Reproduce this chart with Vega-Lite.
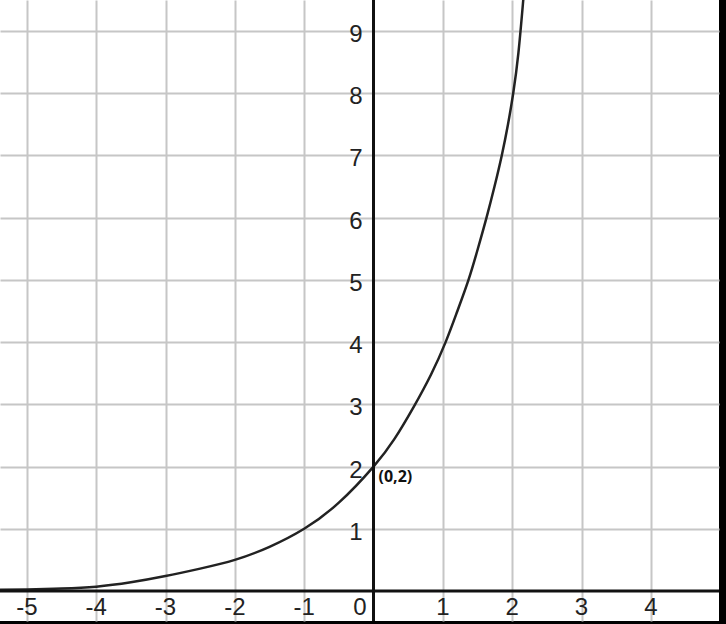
{
  "$schema": "https://vega.github.io/schema/vega-lite/v6.json",
  "width": 719,
  "height": 621,
  "autosize": {"type": "none"},
  "padding": {"left": 0, "top": 0, "right": 7, "bottom": 3},
  "background": "#000000",
  "config": {"view": {"fill": "#ffffff", "stroke": null}},
  "datasets": {
    "curve": [
      {"x": -5.4, "y": 0.02}, {"x": -5.0, "y": 0.025}, {"x": -4.5, "y": 0.04}, {"x": -4.0, "y": 0.07},
      {"x": -3.5, "y": 0.14}, {"x": -3.0, "y": 0.24}, {"x": -2.5, "y": 0.36}, {"x": -2.0, "y": 0.5},
      {"x": -1.5, "y": 0.71}, {"x": -1.0, "y": 1.0}, {"x": -0.5, "y": 1.42}, {"x": 0.0, "y": 2.0},
      {"x": 0.3, "y": 2.44}, {"x": 0.58, "y": 2.96}, {"x": 0.83, "y": 3.48}, {"x": 1.04, "y": 4.0},
      {"x": 1.21, "y": 4.5}, {"x": 1.37, "y": 5.0}, {"x": 1.505, "y": 5.5}, {"x": 1.63, "y": 6.0},
      {"x": 1.745, "y": 6.5}, {"x": 1.85, "y": 7.0}, {"x": 1.94, "y": 7.5}, {"x": 2.015, "y": 8.0},
      {"x": 2.09, "y": 8.65}, {"x": 2.16, "y": 9.5}, {"x": 2.2, "y": 10.0}
    ],
    "xlabels": [
      {"v": -5, "t": "-5"}, {"v": -4, "t": "-4"}, {"v": -3, "t": "-3"}, {"v": -2, "t": "-2"},
      {"v": -1, "t": "-1"}, {"v": 1, "t": "1"}, {"v": 2, "t": "2"}, {"v": 3, "t": "3"}, {"v": 4, "t": "4"}
    ],
    "ylabels": [
      {"v": 1, "t": "1"}, {"v": 2, "t": "2"}, {"v": 3, "t": "3"}, {"v": 4, "t": "4"}, {"v": 5, "t": "5"},
      {"v": 6, "t": "6"}, {"v": 7, "t": "7"}, {"v": 8, "t": "8"}, {"v": 9, "t": "9"}
    ],
    "point": [{"x": 0, "y": 2, "t": "(0,2)"}]
  },
  "layer": [
    {
      "data": {"name": "curve"},
      "mark": {"type": "line", "color": "#222222", "strokeWidth": 2.5, "interpolate": "natural", "clip": true},
      "encoding": {
        "x": {
          "field": "x", "type": "quantitative",
          "scale": {"domain": [-5.387, 4.983], "nice": false, "zero": false},
          "axis": {"grid": true, "gridColor": "#c6c6c6", "gridWidth": 2, "gridOpacity": 1, "labels": false, "ticks": false, "domain": false, "title": null,
                   "values": [-5, -4, -3, -2, -1, 1, 2, 3, 4]}
        },
        "y": {
          "field": "y", "type": "quantitative",
          "scale": {"domain": [-0.482, 9.498], "nice": false, "zero": false},
          "axis": {"grid": true, "gridColor": "#c6c6c6", "gridWidth": 2, "gridOpacity": 1, "labels": false, "ticks": false, "domain": false, "title": null,
                   "values": [1, 2, 3, 4, 5, 6, 7, 8, 9]}
        }
      }
    },
    {
      "data": {"values": [{"v": 0}]},
      "mark": {"type": "rule", "color": "#111111", "strokeWidth": 3},
      "encoding": {"x": {"field": "v", "type": "quantitative"}}
    },
    {
      "data": {"values": [{"v": 0}]},
      "mark": {"type": "rule", "color": "#111111", "strokeWidth": 3},
      "encoding": {"y": {"field": "v", "type": "quantitative"}}
    },
    {
      "data": {"name": "xlabels"},
      "mark": {"type": "text", "font": "Liberation Sans", "fontSize": 24, "color": "#222222", "align": "center", "baseline": "middle", "dy": 17},
      "encoding": {
        "x": {"field": "v", "type": "quantitative"},
        "y": {"datum": 0, "type": "quantitative"},
        "text": {"field": "t"}
      }
    },
    {
      "data": {"values": [{"t": "0"}]},
      "mark": {"type": "text", "font": "Liberation Sans", "fontSize": 24, "color": "#222222", "align": "right", "baseline": "middle", "dx": -7, "dy": 17},
      "encoding": {
        "x": {"datum": 0, "type": "quantitative"},
        "y": {"datum": 0, "type": "quantitative"},
        "text": {"field": "t"}
      }
    },
    {
      "data": {"name": "ylabels"},
      "mark": {"type": "text", "font": "Liberation Sans", "fontSize": 24, "color": "#222222", "align": "right", "baseline": "middle", "dx": -11, "dy": 4},
      "encoding": {
        "x": {"datum": 0, "type": "quantitative"},
        "y": {"field": "v", "type": "quantitative"},
        "text": {"field": "t"}
      }
    },
    {
      "data": {"name": "point"},
      "mark": {"type": "text", "font": "Open Sans", "fontWeight": "bold", "fontSize": 16, "color": "#111111", "align": "left", "baseline": "middle", "dx": 5, "dy": 10},
      "encoding": {
        "x": {"field": "x", "type": "quantitative"},
        "y": {"field": "y", "type": "quantitative"},
        "text": {"field": "t"}
      }
    }
  ]
}
